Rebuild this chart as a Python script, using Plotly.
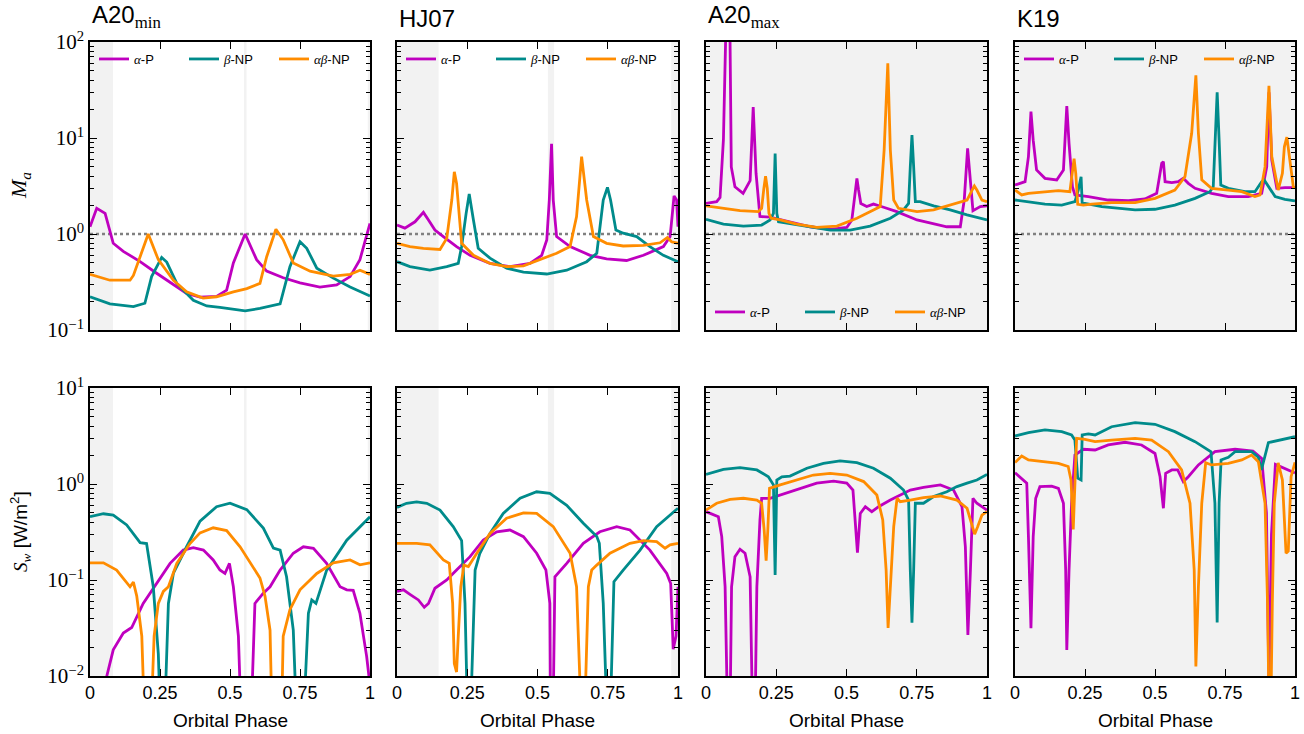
import plotly.graph_objects as go

SANS = "Liberation Sans, Arial, sans-serif"
SERIF = "Liberation Serif, Times New Roman, serif"

# ---------------- labels / ticks ----------------
MODEL_TITLES = ["A20<sub><span style='font-family:Liberation Serif'>min</span></sub>", "HJ07",
                "A20<sub><span style='font-family:Liberation Serif'>max</span></sub>", "K19"]
SERIES_NAMES = ["<span style='font-family:Liberation Serif'><i>α</i></span>-P",
                "<span style='font-family:Liberation Serif'><i>β</i></span>-NP",
                "<span style='font-family:Liberation Serif'><i>αβ</i></span>-NP"]
SERIES_COLORS = ["#bf00bf", "#008b8b", "#ff8c00"]
PHASE_TICKS = [0, 0.25, 0.5, 0.75, 1]
PHASE_TICK_TEXT = ["0", "0.25", "0.5", "0.75", "1"]
MA_TICKS = [0.1, 1, 10, 100]
MA_TICK_TEXT = ["10<sup>−1</sup>", "10<sup>0</sup>", "10<sup>1</sup>", "10<sup>2</sup>"]
SW_TICKS = [0.01, 0.1, 1, 10]
SW_TICK_TEXT = ["10<sup>−2</sup>", "10<sup>−1</sup>", "10<sup>0</sup>", "10<sup>1</sup>"]
MA_THRESHOLD = 1.0

# shaded phase intervals per model
SHADE_A20MIN = [[0, 0.082], [0.55, 0.559], [0.992, 1.0]]
SHADE_HJ07 = [[0, 0.148], [0.537, 0.559], [0.976, 1.0]]
SHADE_A20MAX = [[0, 1]]
SHADE_K19 = [[0, 1]]

# ---------------- A20min : M_a ----------------
ma_a20min_ap_x = [0, .024, .054, .083, .119, .179, .238, .297, .345, .393, .452, .488, .512, .554, .595, .631, .69, .75, .821, .881, .929, .964, 1.0]
ma_a20min_ap_y = [1.19, 1.85, 1.64, 0.80, 0.66, 0.515, 0.39, 0.295, 0.24, 0.22, 0.224, 0.26, 0.50, 1.0, 0.54, 0.41, 0.35, 0.31, 0.28, 0.295, 0.36, 0.54, 1.29]
ma_a20min_bnp_x = [0, .071, .155, .196, .220, .256, .274, .310, .369, .417, .464, .512, .554, .607, .679, .714, .750, .774, .810, .869, .929, 1.0]
ma_a20min_bnp_y = [0.222, 0.187, 0.175, 0.19, 0.36, 0.57, 0.51, 0.306, 0.204, 0.178, 0.172, 0.164, 0.158, 0.168, 0.187, 0.457, 0.83, 0.71, 0.44, 0.347, 0.28, 0.226]
ma_a20min_abnp_x = [0, .071, .143, .155, .208, .244, .298, .345, .404, .452, .512, .56, .607, .631, .664, .69, .726, .786, .869, .929, .964, 1.0]
ma_a20min_abnp_y = [0.38, 0.33, 0.33, 0.37, 1.0, 0.54, 0.33, 0.25, 0.215, 0.222, 0.25, 0.27, 0.306, 0.58, 1.12, 0.87, 0.50, 0.41, 0.365, 0.38, 0.42, 0.38]

# ---------------- A20min : S_w ----------------
sw_a20min_ap_x = [0, .04, .06, .083, .119, .149, .19, .238, .286, .333, .369, .405, .44, .464, .482, .498, .512, .53, .538, .577, .589, .619, .643, .679, .726, .762, .798, .845, .893, .917, .94, .964, .988, 1.0]
sw_a20min_ap_y = [0.003, 0.006, 0.01, 0.0187, 0.028, 0.032, 0.057, 0.092, 0.149, 0.205, 0.217, 0.205, 0.162, 0.127, 0.117, 0.149, 0.085, 0.026, 0.005, 0.005, 0.057, 0.073, 0.085, 0.127, 0.19, 0.222, 0.214, 0.149, 0.085, 0.079, 0.078, 0.045, 0.016, 0.008]
sw_a20min_bnp_x = [0, .048, .083, .131, .179, .202, .226, .244, .25, .268, .28, .298, .345, .393, .452, .5, .56, .619, .655, .679, .702, .726, .736, .765, .78, .792, .807, .845, .917, 1.0]
sw_a20min_bnp_y = [0.457, 0.49, 0.475, 0.374, 0.245, 0.24, 0.085, 0.017, 0.005, 0.005, 0.057, 0.118, 0.222, 0.41, 0.58, 0.63, 0.54, 0.347, 0.215, 0.205, 0.108, 0.03, 0.005, 0.005, 0.045, 0.062, 0.057, 0.126, 0.26, 0.457]
sw_a20min_abnp_x = [0, .048, .095, .131, .143, .155, .167, .185, .193, .220, .229, .244, .262, .28, .31, .357, .393, .44, .488, .536, .583, .607, .625, .643, .649, .685, .69, .714, .75, .81, .869, .929, .964, 1.0]
sw_a20min_abnp_y = [0.151, 0.151, 0.127, 0.092, 0.085, 0.095, 0.068, 0.026, 0.005, 0.005, 0.026, 0.057, 0.076, 0.085, 0.149, 0.24, 0.31, 0.35, 0.327, 0.222, 0.138, 0.105, 0.068, 0.03, 0.005, 0.005, 0.026, 0.049, 0.079, 0.117, 0.151, 0.162, 0.144, 0.151]

# ---------------- HJ07 : M_a ----------------
ma_hj07_ap_x = [0, .028, .064, .094, .112, .135, .165, .212, .26, .331, .402, .473, .515, .533, .542, .55, .556, .568, .616, .687, .746, .817, .877, .948, .972, .986, .995, 1.0]
ma_hj07_ap_y = [1.24, 1.15, 1.34, 1.68, 1.40, 1.10, 0.94, 0.74, 0.60, 0.494, 0.457, 0.494, 0.60, 0.865, 2.26, 8.7, 2.26, 0.94, 0.74, 0.60, 0.55, 0.53, 0.60, 0.74, 0.94, 2.49, 2.26, 1.19]
ma_hj07_bnp_x = [0, .046, .117, .177, .218, .23, .246, .257, .272, .289, .331, .39, .45, .533, .604, .675, .711, .722, .734, .749, .76, .779, .805, .853, .9, .948, 1.0]
ma_hj07_bnp_y = [0.515, 0.457, 0.42, 0.457, 0.494, 0.74, 1.64, 2.61, 1.40, 0.71, 0.56, 0.44, 0.40, 0.383, 0.42, 0.515, 0.63, 1.19, 2.26, 3.06, 2.26, 1.10, 1.02, 0.94, 0.74, 0.60, 0.515]
ma_hj07_abnp_x = [0, .046, .094, .153, .177, .195, .204, .212, .23, .272, .331, .39, .45, .509, .568, .616, .639, .657, .675, .699, .746, .805, .877, .936, .962, .977, 1.0]
ma_hj07_abnp_y = [0.80, 0.74, 0.71, 0.69, 0.90, 2.26, 4.45, 3.37, 0.80, 0.60, 0.494, 0.457, 0.465, 0.537, 0.63, 0.74, 1.52, 6.4, 2.26, 0.94, 0.80, 0.75, 0.76, 0.81, 0.92, 0.83, 0.80]

# ---------------- HJ07 : S_w ----------------
sw_hj07_ap_x = [0, .023, .046, .076, .097, .112, .135, .177, .212, .26, .307, .355, .402, .45, .497, .53, .544, .546, .556, .562, .604, .663, .722, .782, .829, .9, .96, .974, .983, .993, 1.0]
sw_hj07_ap_y = [0.076, 0.079, 0.071, 0.062, 0.052, 0.057, 0.082, 0.1, 0.127, 0.175, 0.261, 0.318, 0.332, 0.283, 0.19, 0.127, 0.057, 0.005, 0.005, 0.108, 0.149, 0.241, 0.318, 0.36, 0.332, 0.205, 0.117, 0.092, 0.019, 0.026, 0.085]
sw_hj07_bnp_x = [0, .034, .07, .106, .153, .2, .23, .242, .25, .263, .278, .295, .331, .378, .438, .497, .544, .604, .663, .711, .72, .734, .746, .76, .772, .805, .865, .924, 1.0]
sw_hj07_bnp_y = [0.571, 0.63, 0.65, 0.63, 0.535, 0.36, 0.257, 0.057, 0.005, 0.005, 0.127, 0.19, 0.306, 0.494, 0.71, 0.83, 0.80, 0.60, 0.39, 0.283, 0.241, 0.057, 0.005, 0.005, 0.096, 0.127, 0.205, 0.36, 0.559]
sw_hj07_abnp_x = [0, .07, .117, .165, .186, .198, .204, .212, .218, .227, .238, .254, .284, .331, .39, .45, .497, .556, .616, .639, .654, .669, .681, .693, .711, .758, .829, .877, .924, .954, .972, 1.0]
sw_hj07_abnp_y = [0.241, 0.241, 0.232, 0.162, 0.149, 0.057, 0.0135, 0.011, 0.026, 0.085, 0.143, 0.138, 0.19, 0.306, 0.44, 0.50, 0.494, 0.36, 0.19, 0.085, 0.005, 0.005, 0.085, 0.127, 0.143, 0.19, 0.241, 0.257, 0.251, 0.214, 0.232, 0.241]

# ---------------- A20max : M_a ----------------
ma_a20max_ap_x = [0, .038, .05, .062, .071, .078, .085, .09, .103, .132, .157, .168, .178, .192, .228, .299, .371, .442, .501, .519, .527, .537, .543, .551, .572, .596, .632, .679, .751, .81, .857, .905, .919, .931, .941, .95, .976, 1.0]
ma_a20max_ap_y = [2.08, 2.17, 2.4, 9.6, 150, 400, 150, 5.0, 3.1, 2.65, 3.6, 21, 4.3, 1.52, 1.50, 1.34, 1.19, 1.12, 1.17, 1.40, 2.26, 3.8, 2.87, 2.08, 1.93, 2.05, 1.90, 1.71, 1.40, 1.27, 1.19, 1.19, 2.26, 7.8, 3.66, 1.75, 1.93, 1.97]
ma_a20max_bnp_x = [0, .062, .133, .198, .228, .24, .246, .252, .258, .299, .371, .442, .513, .584, .656, .703, .721, .727, .733, .739, .745, .762, .81, .869, .929, 1.0]
ma_a20max_bnp_y = [1.42, 1.27, 1.21, 1.24, 1.40, 1.64, 6.9, 1.64, 1.34, 1.29, 1.19, 1.10, 1.10, 1.21, 1.46, 1.78, 2.08, 5.0, 10.7, 5.0, 2.17, 2.17, 1.96, 1.78, 1.58, 1.40]
ma_a20max_abnp_x = [0, .062, .121, .186, .198, .206, .212, .218, .224, .232, .264, .323, .394, .466, .537, .596, .62, .634, .647, .656, .668, .685, .751, .81, .869, .929, .947, .955, .964, .982, 1.0]
ma_a20max_abnp_y = [1.96, 1.85, 1.75, 1.71, 1.85, 3.0, 4.0, 3.0, 1.64, 1.46, 1.40, 1.27, 1.17, 1.21, 1.46, 1.78, 1.93, 7.5, 60, 7.5, 2.26, 1.85, 1.71, 1.78, 2.0, 2.26, 2.87, 3.16, 2.87, 2.26, 2.17]

# ---------------- A20max : S_w ----------------
sw_a20max_ap_x = [0, .026, .044, .056, .068, .076, .086, .091, .103, .121, .139, .157, .165, .175, .181, .192, .198, .228, .264, .323, .394, .454, .501, .523, .531, .539, .549, .567, .59, .614, .656, .727, .774, .834, .881, .911, .923, .932, .941, .95, .964, .982, 1.0]
sw_a20max_ap_y = [0.515, 0.475, 0.457, 0.283, 0.085, 0.005, 0.005, 0.085, 0.175, 0.209, 0.19, 0.108, 0.005, 0.005, 0.085, 0.422, 0.71, 0.71, 0.767, 0.865, 1.02, 1.07, 1.02, 0.865, 0.422, 0.193, 0.494, 0.58, 0.515, 0.58, 0.68, 0.865, 0.92, 0.98, 0.865, 0.58, 0.222, 0.0267, 0.127, 0.71, 0.63, 0.58, 0.535]
sw_a20max_bnp_x = [0, .062, .121, .181, .222, .24, .246, .252, .27, .299, .359, .418, .477, .537, .596, .656, .703, .721, .727, .733, .739, .745, .774, .81, .857, .893, .929, .964, 1.0]
sw_a20max_bnp_y = [1.26, 1.42, 1.48, 1.40, 1.19, 0.98, 0.113, 1.10, 1.19, 1.21, 1.46, 1.64, 1.74, 1.67, 1.46, 1.15, 0.865, 0.68, 0.127, 0.036, 0.127, 0.63, 0.63, 0.74, 0.83, 0.94, 1.02, 1.10, 1.26]
sw_a20max_abnp_x = [0, .038, .086, .133, .181, .198, .207, .214, .22, .226, .264, .323, .382, .442, .501, .561, .608, .629, .641, .648, .656, .668, .68, .691, .727, .774, .834, .893, .929, .947, .956, .967, .982, 1.0]
sw_a20max_abnp_y = [0.535, 0.63, 0.69, 0.71, 0.68, 0.63, 0.332, 0.159, 0.332, 0.90, 0.98, 1.10, 1.24, 1.29, 1.24, 1.06, 0.767, 0.422, 0.127, 0.0316, 0.085, 0.36, 0.71, 0.655, 0.68, 0.72, 0.75, 0.68, 0.559, 0.36, 0.30, 0.36, 0.475, 0.515]

# ---------------- K19 : M_a ----------------
ma_k19_ap_x = [0, .036, .048, .057, .065, .077, .107, .149, .173, .185, .193, .205, .214, .262, .333, .405, .464, .506, .524, .53, .536, .56, .583, .601, .619, .643, .702, .762, .833, .881, .899, .907, .917, .935, .964, 1.0]
ma_k19_ap_y = [3.24, 3.51, 6.4, 18.8, 9.5, 4.65, 3.8, 3.66, 4.65, 21.5, 8.8, 3.11, 2.55, 2.45, 2.26, 2.22, 2.32, 2.65, 5.45, 5.66, 3.51, 3.43, 3.51, 3.8, 3.37, 2.99, 2.65, 2.45, 2.45, 2.65, 5.0, 30, 5.9, 2.99, 3.04, 3.04]
ma_k19_bnp_x = [0, .048, .107, .167, .214, .226, .236, .24, .25, .31, .369, .429, .5, .571, .643, .696, .708, .714, .722, .729, .735, .762, .821, .857, .881, .89, .905, .929, .964, 1.0]
ma_k19_bnp_y = [2.26, 2.17, 2.05, 2.0, 2.17, 2.87, 3.95, 2.08, 2.08, 1.93, 1.85, 1.78, 1.81, 2.0, 2.35, 2.76, 3.11, 9.5, 30, 9.5, 3.24, 2.99, 2.76, 2.76, 3.51, 3.66, 3.11, 2.45, 2.30, 2.21]
ma_k19_abnp_x = [0, .024, .048, .107, .155, .196, .205, .211, .217, .224, .244, .274, .345, .429, .5, .571, .607, .631, .646, .655, .667, .702, .762, .81, .857, .875, .893, .907, .917, .94, .955, .962, .971, .986, .994, 1.0]
ma_k19_abnp_y = [2.87, 2.55, 2.65, 2.76, 2.83, 2.76, 4.28, 6.1, 4.28, 2.04, 2.0, 2.05, 2.12, 2.12, 2.35, 2.87, 3.95, 11.2, 45, 11.2, 3.66, 2.99, 2.87, 2.76, 2.45, 2.55, 5.0, 35, 6.4, 2.87, 4.28, 8.1, 10.2, 4.28, 3.1, 3.0]

# ---------------- K19 : S_w ----------------
sw_k19_ap_x = [0, .024, .042, .048, .057, .065, .074, .089, .131, .155, .173, .181, .185, .193, .202, .214, .244, .286, .333, .393, .452, .5, .518, .53, .538, .56, .581, .601, .619, .655, .714, .786, .85, .881, .898, .907, .916, .93, .964, 1.0]
sw_k19_ap_y = [1.31, 1.15, 1.02, 0.283, 0.0314, 0.283, 0.71, 0.94, 0.95, 0.90, 0.63, 0.127, 0.0187, 0.127, 0.63, 2.0, 2.30, 2.26, 2.55, 2.72, 2.55, 2.08, 1.19, 0.559, 1.29, 1.40, 1.40, 1.06, 1.19, 1.58, 2.17, 2.30, 2.2, 1.85, 0.5, 0.008, 0.3, 1.6, 1.46, 1.3]
sw_k19_bnp_x = [0, .048, .107, .167, .202, .214, .224, .236, .24, .262, .286, .345, .429, .5, .571, .643, .7, .714, .722, .729, .736, .762, .786, .845, .869, .88, .905, .929, .964, 1.0]
sw_k19_bnp_y = [3.16, 3.43, 3.66, 3.51, 3.24, 2.87, 1.15, 1.10, 3.24, 3.32, 3.24, 3.95, 4.35, 4.19, 3.51, 2.76, 2.17, 0.63, 0.036, 0.63, 1.78, 1.90, 2.17, 2.17, 1.9, 1.4, 2.7, 2.8, 2.99, 3.11]
sw_k19_abnp_x = [0, .024, .048, .095, .155, .19, .2, .208, .214, .22, .25, .286, .345, .429, .488, .548, .595, .625, .64, .646, .655, .667, .681, .702, .762, .81, .845, .869, .893, .902, .907, .914, .919, .926, .94, .955, .968, .976, .986, 1.0]
sw_k19_abnp_y = [1.67, 1.96, 1.78, 1.71, 1.64, 1.52, 1.10, 0.337, 1.10, 2.99, 2.92, 2.76, 2.87, 2.99, 2.87, 2.17, 1.40, 0.63, 0.127, 0.0126, 0.085, 0.63, 1.67, 1.58, 1.64, 1.78, 2.0, 1.71, 0.63, 0.057, 0.005, 0.005, 0.057, 0.63, 1.66, 1.10, 0.19, 0.2, 1.19, 1.68]

MA_DATA = [
    [(ma_a20min_ap_x, ma_a20min_ap_y), (ma_a20min_bnp_x, ma_a20min_bnp_y), (ma_a20min_abnp_x, ma_a20min_abnp_y)],
    [(ma_hj07_ap_x, ma_hj07_ap_y), (ma_hj07_bnp_x, ma_hj07_bnp_y), (ma_hj07_abnp_x, ma_hj07_abnp_y)],
    [(ma_a20max_ap_x, ma_a20max_ap_y), (ma_a20max_bnp_x, ma_a20max_bnp_y), (ma_a20max_abnp_x, ma_a20max_abnp_y)],
    [(ma_k19_ap_x, ma_k19_ap_y), (ma_k19_bnp_x, ma_k19_bnp_y), (ma_k19_abnp_x, ma_k19_abnp_y)],
]
SW_DATA = [
    [(sw_a20min_ap_x, sw_a20min_ap_y), (sw_a20min_bnp_x, sw_a20min_bnp_y), (sw_a20min_abnp_x, sw_a20min_abnp_y)],
    [(sw_hj07_ap_x, sw_hj07_ap_y), (sw_hj07_bnp_x, sw_hj07_bnp_y), (sw_hj07_abnp_x, sw_hj07_abnp_y)],
    [(sw_a20max_ap_x, sw_a20max_ap_y), (sw_a20max_bnp_x, sw_a20max_bnp_y), (sw_a20max_abnp_x, sw_a20max_abnp_y)],
    [(sw_k19_ap_x, sw_k19_ap_y), (sw_k19_bnp_x, sw_k19_bnp_y), (sw_k19_abnp_x, sw_k19_abnp_y)],
]
SHADES = [SHADE_A20MIN, SHADE_HJ07, SHADE_A20MAX, SHADE_K19]

# ---------------- layout geometry ----------------
W, H = 1304, 734
X_DOMAINS = [[90 / W, 370 / W], [397 / W, 678 / W], [706 / W, 987 / W], [1015 / W, 1295 / W]]
Y_DOMAINS = [[1 - 330 / H, 1 - 42 / H], [1 - 676 / H, 1 - 388 / H]]
LEGEND_NAMES = ["legend", "legend2", "legend3", "legend4"]

fig = go.Figure()
layout = dict(width=W, height=H, autosize=False,
              margin=dict(l=0, r=0, t=0, b=0, pad=0, autoexpand=False),
              paper_bgcolor="white", plot_bgcolor="white",
              font=dict(family=SANS, size=18, color="black"), shapes=[], annotations=[])


def minor_vals(lo_exp, hi_exp):
    return [m * 10 ** e for e in range(lo_exp, hi_exp) for m in range(2, 10)]


axis_common = dict(showline=True, linecolor="black", linewidth=1.6, mirror="allticks",
                   ticks="inside", ticklen=7, tickwidth=1.3, tickcolor="black",
                   showgrid=False, zeroline=False, automargin=False)

for row in range(2):
    for col in range(4):
        k = row * 4 + col
        xa = "x" if k == 0 else f"x{k + 1}"
        ya = "y" if k == 0 else f"y{k + 1}"
        xkey = "xaxis" if k == 0 else f"xaxis{k + 1}"
        ykey = "yaxis" if k == 0 else f"yaxis{k + 1}"
        layout[xkey] = dict(axis_common, domain=X_DOMAINS[col], anchor=ya, range=[0, 1],
                            tickmode="array", tickvals=PHASE_TICKS, ticktext=PHASE_TICK_TEXT,
                            showticklabels=(row == 1), tickfont=dict(family=SANS, size=18))
        if row == 0:
            yr, tv, tt, mv = [-1, 2], MA_TICKS, MA_TICK_TEXT, minor_vals(-1, 2)
        else:
            yr, tv, tt, mv = [-2, 1], SW_TICKS, SW_TICK_TEXT, minor_vals(-2, 1)
        layout[ykey] = dict(axis_common, domain=Y_DOMAINS[row], anchor=xa, type="log", range=yr,
                            tickmode="array", tickvals=tv, ticktext=tt,
                            showticklabels=(col == 0), tickfont=dict(family=SERIF, size=21),
                            minor=dict(tickmode="array", tickvals=mv, ticks="inside", ticklen=4,
                                       tickwidth=1.0, tickcolor="black", showgrid=False))
        for x0, x1 in SHADES[col]:
            layout["shapes"].append(dict(type="rect", xref=xa, yref=f"{ya} domain", x0=x0, x1=x1,
                                         y0=0, y1=1, fillcolor="#f2f2f2", line=dict(width=0),
                                         layer="below"))
        data = MA_DATA[col] if row == 0 else SW_DATA[col]
        if row == 0:
            fig.add_trace(go.Scatter(x=[0, 1], y=[MA_THRESHOLD, MA_THRESHOLD], mode="lines",
                                     line=dict(color="#808080", width=2.6, dash="dot"),
                                     xaxis=xa, yaxis=ya, showlegend=False, hoverinfo="skip"))
        for s, (xs, ys) in enumerate(data):
            fig.add_trace(go.Scatter(x=xs, y=ys, mode="lines", name=SERIES_NAMES[s],
                                     line=dict(color=SERIES_COLORS[s], width=2.8),
                                     xaxis=xa, yaxis=ya, showlegend=(row == 0),
                                     legend=LEGEND_NAMES[col]))

# legends
for col in range(4):
    y = 1 - (312 if col == 2 else 59) / H
    layout[LEGEND_NAMES[col]] = dict(orientation="h", x=(X_DOMAINS[col][0] * W + 4) / W, y=y,
                                     xanchor="left", yanchor="middle", bgcolor="rgba(0,0,0,0)",
                                     font=dict(family=SANS, size=13), entrywidth=45,
                                     entrywidthmode="pixels", borderwidth=0, itemwidth=30)

# titles and axis labels
for col in range(4):
    layout["annotations"].append(dict(text=MODEL_TITLES[col], xref="paper", yref="paper",
                                      x=X_DOMAINS[col][0], y=1 - 34 / H, xanchor="left",
                                      yanchor="bottom", showarrow=False,
                                      font=dict(family=SANS, size=24)))
    layout["annotations"].append(dict(text="Orbital Phase", xref="paper", yref="paper",
                                      x=(X_DOMAINS[col][0] + X_DOMAINS[col][1]) / 2, y=1 - 720 / H,
                                      xanchor="center", yanchor="middle", showarrow=False,
                                      font=dict(family=SANS, size=19)))
layout["annotations"].append(dict(
    text="<span style='font-family:Liberation Serif'><i>M</i><sub><i>a</i></sub></span>",
    xref="paper", yref="paper", x=20 / W, y=1 - 186 / H, xanchor="center", yanchor="middle",
    textangle=-90, showarrow=False, font=dict(family=SERIF, size=22)))
layout["annotations"].append(dict(
    text="<span style='font-family:Liberation Serif'><i>S</i><sub><i>w</i></sub></span> [W/m<sup>2</sup>]",
    xref="paper", yref="paper", x=20 / W, y=1 - 532 / H, xanchor="center", yanchor="middle",
    textangle=-90, showarrow=False, font=dict(family=SANS, size=19)))

fig.update_layout(**layout)
fig.write_html("out.html", config={"displayModeBar": False},
               post_script="document.body.style.margin='0';document.body.style.overflow='hidden';")
